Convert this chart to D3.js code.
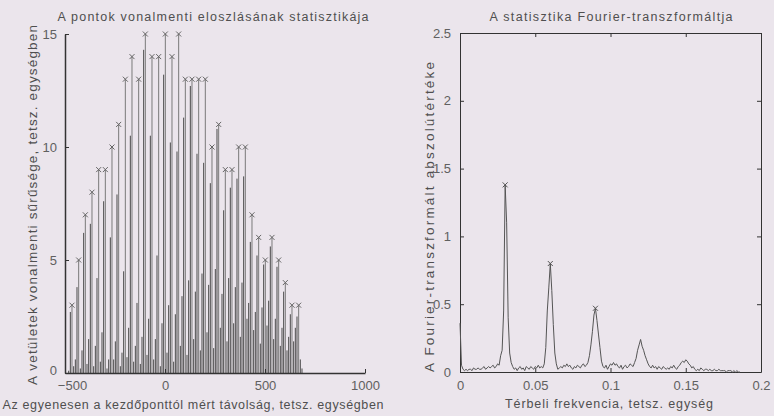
<!DOCTYPE html>
<html>
<head>
<meta charset="utf-8">
<script src="https://cdn.jsdelivr.net/npm/d3@7"></script>
<style>
  body { margin: 0; background: #ebe5ec; }
  svg { display: block; font-family: "Liberation Sans", Arial, sans-serif; }
  .tick text { fill: #606060; font-size: 13px; }
  .tick line, .domain { stroke: #333; }
  .lbl { fill: #4f4f4f; font-size: 12.5px; }
  .lbl.vert { font-size: 13.5px; }
</style>
</head>
<body>
<div id="chart"></div>
<script>
// left plot: stem heights, bins of 8.33 units starting at -490 (4 bins per period)
var binStart = -490;
var binWidth = 8.333;
var stemHeights = [
  0, 0.1, 2.7, 3,     0.3, 0.6, 3.8, 5,     0.2, 1.0, 6.2, 7,     0.4, 1.5, 6.6, 8,
  0.3, 1.2, 4.2, 9,   0.5, 1.8, 7.6, 9,     0.2, 0.6, 6.0, 10,    0.6, 1.4, 7.9, 11,
  0.3, 0.9, 4.5, 13,  0.7, 2.0, 10.5, 14,   0.5, 1.2, 3.1, 13,    0.4, 1.6, 14.3, 15,
  0.8, 2.4, 10.5, 14, 0.6, 1.5, 5.2, 14,    0.3, 2.2, 13.2, 15,   0.9, 3.0, 10.2, 14,
  0.5, 2.6, 9.8, 15,  1.2, 3.4, 11.3, 13,   0.8, 4.1, 12.7, 13,   1.5, 3.6, 9.7, 13,
  1.0, 4.4, 9.3, 13,  1.8, 3.9, 8.4, 10,    1.1, 4.6, 10.8, 11,   2.0, 3.5, 7.2, 9,
  1.4, 4.2, 8.2, 9,   2.2, 3.8, 8.6, 10,    1.6, 4.0, 8.7, 10,    2.4, 3.1, 5.8, 7,
  1.9, 2.7, 5.2, 6,   1.3, 2.9, 4.8, 5,     2.1, 3.2, 5.6, 6,     1.5, 2.4, 4.7, 5,
  1.2, 2.0, 3.6, 4,   1.0, 1.6, 2.6, 3,     1.4, 2.0, 2.5, 3,     0.6, 0.2
];
// indices of the marked peaks (every 4th bin)
var peakIndex = [3, 7, 11, 15, 19, 23, 27, 31, 35, 39, 43, 47, 51, 55, 59, 63, 67,
  71, 75, 79, 83, 87, 91, 95, 99, 103, 107, 111, 115, 119, 123, 127, 131, 135, 139];
var leftXTicks = [-500, 0, 500, 1000];
var leftYTicks = [0, 5, 10, 15];

// right plot: |FFT| sampled every 0.001
var freqStep = 0.001;
var fourierMag = [
  0.36, 0.05, 0.02, 0.01, 0.02, 0.01, 0.02, 0.02, 0.01, 0.03,
  0.02, 0.02, 0.03, 0.02, 0.02, 0.03, 0.04, 0.02, 0.03, 0.04,
  0.03, 0.04, 0.05, 0.03, 0.04, 0.06, 0.05, 0.12, 0.16, 0.45,
  1.38, 1.10, 0.40, 0.14, 0.07, 0.04, 0.02, 0.03, 0.01, 0.03,
  0.04, 0.02, 0.03, 0.01, 0.04, 0.03, 0.02, 0.04, 0.03, 0.02,
  0.04, 0.03, 0.05, 0.03, 0.04, 0.03, 0.06, 0.18, 0.45, 0.62,
  0.80, 0.60, 0.35, 0.14, 0.06, 0.02, 0.03, 0.04, 0.03, 0.05,
  0.04, 0.06, 0.04, 0.05, 0.03, 0.02, 0.04, 0.03, 0.05, 0.04,
  0.03, 0.05, 0.06, 0.04, 0.05, 0.07, 0.12, 0.20, 0.30, 0.42,
  0.47, 0.38, 0.28, 0.18, 0.08, 0.04, 0.03, 0.05, 0.02, 0.04,
  0.06, 0.05, 0.07, 0.05, 0.06, 0.04, 0.03, 0.05, 0.02, 0.04,
  0.05, 0.03, 0.04, 0.06, 0.05, 0.04, 0.07, 0.10, 0.16, 0.20,
  0.24, 0.19, 0.16, 0.12, 0.09, 0.06, 0.04, 0.03, 0.05, 0.03,
  0.04, 0.02, 0.04, 0.03, 0.02, 0.04, 0.03, 0.02, 0.03, 0.02,
  0.04, 0.03, 0.05, 0.03, 0.02, 0.04, 0.05, 0.07, 0.08, 0.07,
  0.09, 0.08, 0.06, 0.05, 0.03, 0.04, 0.02, 0.01, 0.02, 0.01,
  0.03, 0.02, 0.01, 0.02, 0.02, 0.01, 0.02, 0.01, 0.01, 0.02,
  0.01, 0.01, 0.02, 0.01, 0.01, 0.01, 0.01, 0.00, 0.01, 0.01,
  0.01, 0.00, 0.01, 0.00, 0.01, 0.00, 0.00
];
var fourierPeaks = [30, 60, 90];
var rightXTicks = [0, 0.05, 0.1, 0.15, 0.2];
var rightYTicks = [0, 0.5, 1, 1.5, 2, 2.5];

var svg = d3.select("#chart").append("svg")
  .attr("width", 774)
  .attr("height", 416);

function xMark(g, x, y, col) {
  var s = 2.5;
  g.append("path")
    .attr("d", `M${x - s},${y - s}L${x + s},${y + s}M${x - s},${y + s}L${x + s},${y - s}`)
    .attr("stroke", col)
    .attr("stroke-width", 1)
    .attr("fill", "none");
}

// text stretched to the width it has in the scan
function label(g, txt, x, y, len, rot) {
  g.append("text")
    .attr("class", rot ? "lbl vert" : "lbl")
    .attr("transform", `translate(${x}, ${y})` + (rot ? " rotate(-90)" : ""))
    .attr("text-anchor", "middle")
    .attr("textLength", len)
    .attr("lengthAdjust", "spacing")
    .text(txt);
}

// ---------- left plot ----------
var xL = d3.scaleLinear().domain([-500, 1000]).range([65, 365]);
var yL = d3.scaleLinear().domain([0, 15]).range([373, 34]);

var left = svg.append("g");

left.selectAll("line.stem")
  .data(stemHeights)
  .enter()
  .append("line")
  .attr("class", "stem")
  .attr("x1", (d, i) => xL(binStart + i * binWidth))
  .attr("x2", (d, i) => xL(binStart + i * binWidth))
  .attr("y1", yL(0))
  .attr("y2", d => yL(d))
  .attr("stroke", (d, i) => (i % 4 === 3 ? "#7a7a7a" : "#4a4a4a"))
  .attr("stroke-width", 1);

peakIndex.forEach(function (i) {
  xMark(left, xL(binStart + i * binWidth), yL(stemHeights[i]), "#666");
});

left.append("g")
  .attr("transform", `translate(0, ${yL(0)})`)
  .call(d3.axisBottom(xL).tickValues(leftXTicks).tickFormat(d3.format("")).tickSizeInner(-4).tickSizeOuter(0).tickPadding(8))
  .call(g => g.selectAll(".domain").attr("stroke-width", 1.5))
  // the scan has -500 sitting a little right of the corner, clear of the y "0"
  .call(g => g.selectAll(".tick text").filter(d => d === -500).attr("dx", 7));

left.append("g")
  .attr("transform", `translate(${xL(-500)}, 0)`)
  .call(d3.axisLeft(yL).tickValues(leftYTicks).tickSizeInner(-4).tickSizeOuter(0).tickPadding(8))
  .call(g => g.selectAll(".domain").attr("stroke-width", 1.5))
  .call(g => g.selectAll(".tick text").filter(d => d === 0).attr("dy", "0.1em"));

label(left, "A pontok vonalmenti eloszlásának statisztikája", 213, 21, 311, false);
label(left, "Az egyenesen a kezdőponttól mért távolság, tetsz. egységben", 193, 409, 381, false);
label(left, "A vetületek vonalmenti sűrűsége, tetsz. egységben", 37, 205, 360, true);

// ---------- right plot ----------
var xR = d3.scaleLinear().domain([0, 0.2]).range([460, 761]);
var yR = d3.scaleLinear().domain([0, 2.5]).range([372, 33]);

var right = svg.append("g");

right.append("g")
  .attr("transform", `translate(0, ${yR(0)})`)
  .call(d3.axisBottom(xR).tickValues(rightXTicks).tickFormat(d3.format("")).tickSizeInner(-4).tickSizeOuter(0).tickPadding(9));
right.append("g")
  .attr("transform", `translate(0, ${yR(2.5)})`)
  .call(d3.axisTop(xR).tickValues(rightXTicks).tickFormat("").tickSizeInner(-4).tickSizeOuter(0));
right.append("g")
  .attr("transform", `translate(${xR(0)}, 0)`)
  .call(d3.axisLeft(yR).tickValues(rightYTicks).tickFormat(d3.format("")).tickSizeInner(-4).tickSizeOuter(0).tickPadding(9));
right.append("g")
  .attr("transform", `translate(${xR(0.2)}, 0)`)
  .call(d3.axisRight(yR).tickValues(rightYTicks).tickFormat("").tickSizeInner(-4).tickSizeOuter(0));

var line = d3.line()
  .x((d, i) => xR(i * freqStep))
  .y(d => yR(d));

right.append("path")
  .datum(fourierMag)
  .attr("d", line)
  .attr("fill", "none")
  .attr("stroke", "#555")
  .attr("stroke-width", 1);

fourierPeaks.forEach(function (i) {
  xMark(right, xR(i * freqStep), yR(fourierMag[i]), "#555");
});

label(right, "A statisztika Fourier-transzformáltja", 611, 21, 243, false);
label(right, "Térbeli frekvencia, tetsz. egység", 609, 408, 208, false);
label(right, "A Fourier-transzformált abszolútértéke", 434, 217, 310, true);
</script>
</body>
</html>
